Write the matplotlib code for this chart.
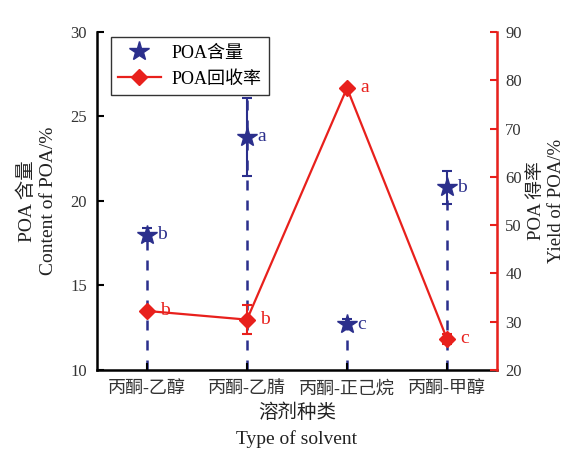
import matplotlib.pyplot as plt
import numpy as np

plt.rcParams['font.family'] = ['Liberation Serif', 'Noto Sans CJK SC']

categories = ['丙酮-乙醇', '丙酮-乙腈', '丙酮-正己烷', '丙酮-甲醇']
content = [18.0, 23.8, 12.7, 20.8]
content_err = [0.4, 2.3, 0.3, 1.0]
content_sig = ['b', 'a', 'c', 'b']
yield_ = [32.2, 30.4, 78.4, 26.4]
yield_err = [0.3, 3.0, 0.5, 1.0]
yield_sig = ['b', 'b', 'a', 'c']

blue = '#2b2f8c'
red = '#e8201c'
grey = '#333333'

fig = plt.figure(figsize=(5.7, 4.51), dpi=100)
ax = fig.add_axes([0.170, 0.180, 0.702, 0.749])
ax2 = ax.twinx()
x = np.arange(1, len(categories) + 1)

# blue dashed stems from the bottom up to the top of each error bar
for xi, v, e in zip(x, content, content_err):
    ax.plot([xi, xi], [10, v + e], ls=(0, (4, 4)), color=blue, lw=1.8, zorder=1)
ax.errorbar(x, content, yerr=content_err, fmt='none', ecolor=blue,
            elinewidth=1.5, capsize=3.5, capthick=1.5, zorder=2)
ax.plot(x, content, ls='none', marker='*', ms=15, color=blue, zorder=3,
        label='POA含量')
for xi, v, s in zip(x, content, content_sig):
    ax.text(xi + 0.1, v, s, color=blue, fontsize=14, va='center', ha='left')

ax2.errorbar(x, yield_, yerr=yield_err, fmt='none', ecolor=red,
             elinewidth=1.5, capsize=3.5, capthick=1.5, zorder=2)
ax2.plot(x, yield_, color=red, lw=1.6, marker='D', ms=8, zorder=3,
         label='POA回收率')
for xi, v, s in zip(x, yield_, yield_sig):
    ax2.text(xi + 0.13, v, s, color=red, fontsize=14, va='center', ha='left')

ax.set_xlim(0.5, 4.5)
ax.set_ylim(10, 30)
ax.set_yticks([10, 15, 20, 25, 30])
ax2.set_ylim(20, 90)
ax2.set_yticks(range(20, 91, 10))
ax.set_xticks(x)
ax.set_xticklabels(categories, fontsize=13)

ax.spines['top'].set_visible(False)
ax2.spines['top'].set_visible(False)
ax.spines['left'].set_linewidth(1.8)
ax.spines['bottom'].set_linewidth(1.8)
ax2.spines['right'].set_color(red)
ax2.spines['right'].set_linewidth(1.8)
ax2.spines['left'].set_visible(False)
ax2.spines['bottom'].set_visible(False)

ax.tick_params(axis='both', direction='in', length=5, width=1.5, labelsize=12,
               labelcolor=grey)
ax.tick_params(axis='x', pad=8, labelsize=13)
ax.tick_params(axis='y', pad=7)
ax2.tick_params(axis='y', direction='in', length=5, width=1.5, colors=red,
                labelsize=12, labelcolor=grey, pad=6)

ax.set_ylabel('POA 含量\nContent of POA/%', fontsize=14, linespacing=1.3,
              color='#222222', labelpad=10)
ax2.set_ylabel('POA 得率\nYield of POA/%', fontsize=13.5, linespacing=1.3,
               rotation=90, labelpad=4, color='#222222')
ax.set_xlabel('溶剂种类\nType of solvent', fontsize=14, linespacing=1.6,
              color='#222222', labelpad=4)

h1, l1 = ax.get_legend_handles_labels()
h2, l2 = ax2.get_legend_handles_labels()
leg = ax.legend(h1 + h2, l1 + l2, loc='upper left', bbox_to_anchor=(0.025, 0.995),
                fontsize=13, frameon=True, fancybox=False, edgecolor='black',
                handlelength=2.4, borderaxespad=0.2, handletextpad=0.6)
leg.get_frame().set_linewidth(1.0)

fig.savefig('out.png', dpi=100)
